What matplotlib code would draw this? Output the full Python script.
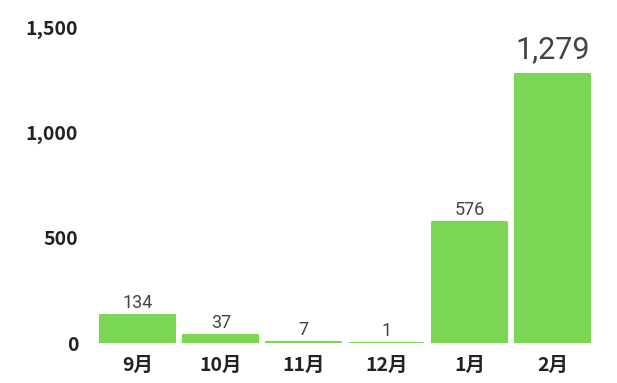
import matplotlib.pyplot as plt
from matplotlib.ticker import FuncFormatter

months = ['9月', '10月', '11月', '12月', '1月', '2月']
counts = [134, 37, 7, 1, 576, 1279]
y_ticks = [0, 500, 1000, 1500]

# the last (largest) value label is drawn bigger
label_sizes = [13, 13, 13, 13, 13, 22]

plt.rcParams['font.family'] = ['Noto Sans CJK SC', 'DejaVu Sans']

fig = plt.figure(figsize=(6.17, 3.83), dpi=100)
ax = fig.add_axes([0.156, 0.1044, 0.807, 0.825])

bars = ax.bar(range(len(months)), counts, width=0.9, color='#7bd654',
              edgecolor='#7bd654', linewidth=1.5, joinstyle='round')

# value labels above bars
for b, v, fs in zip(bars, counts, label_sizes):
    off = 2 if fs < 20 else 7
    ax.annotate(f'{v:,}', (b.get_x() + b.get_width() / 2, v),
                xytext=(0, off), textcoords='offset points',
                ha='center', va='bottom', fontsize=fs, color='#444444',
                family=['Roboto', 'DejaVu Sans'], fontweight='normal')

ax.set_xlim(-0.5, len(months) - 0.5)
ax.set_ylim(0, 1500)
ax.set_yticks(y_ticks)
ax.yaxis.set_major_formatter(FuncFormatter(lambda v, p: f'{int(v):,}'))
ax.set_xticks(range(len(months)))
ax.set_xticklabels(months)

ax.tick_params(axis='both', length=0, labelsize=14, colors='#222222')
ax.tick_params(axis='y', pad=13)
ax.tick_params(axis='x', pad=9)
for lbl in ax.get_xticklabels() + ax.get_yticklabels():
    lbl.set_fontweight('bold')
for s in ax.spines.values():
    s.set_visible(False)

fig.savefig('out.png', dpi=100)
